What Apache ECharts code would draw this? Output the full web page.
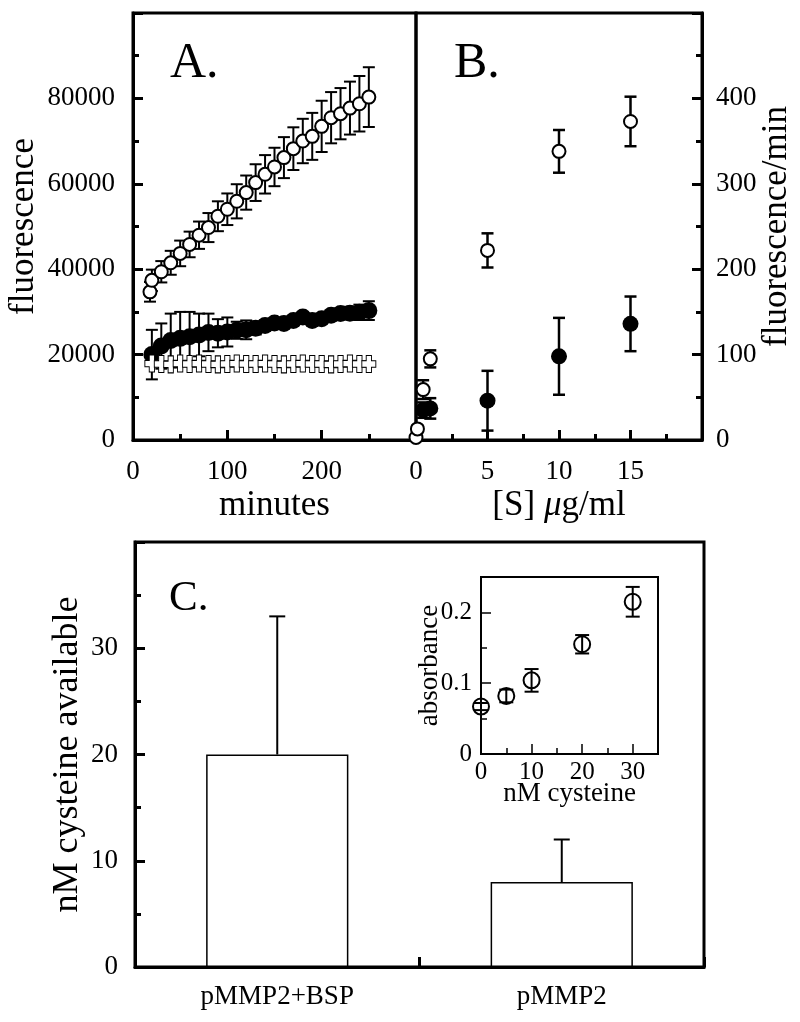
<!DOCTYPE html>
<html>
<head>
<meta charset="utf-8">
<script src="https://cdn.jsdelivr.net/npm/echarts@6/dist/echarts.min.js"></script>
<style>
html,body{margin:0;padding:0;background:#fff;}
#chart{width:800px;height:1022px;}
</style>
</head>
<body>
<div id="chart"></div>
<script>
// ---------- Panel A: fluorescence vs minutes ----------
const aOpenMinutes = [18, 20, 30, 40, 50, 60, 70, 80, 90, 100, 110, 120, 130, 140, 150, 160, 170, 180, 190, 200, 210, 220, 230, 240, 250];
const aOpenValues  = [34700, 37400, 39400, 41500, 43700, 45800, 47960, 49750, 52400, 54040, 55900, 57940, 60280, 62220, 63940, 66130, 68230, 70020, 71110, 73450, 75480, 76420, 77730, 78750, 80300];
const aOpenErrors  = [2300, 2500, 2500, 2800, 3000, 3000, 3200, 3400, 3500, 3700, 4000, 4000, 4300, 4500, 4500, 4800, 5000, 5200, 5500, 6000, 6000, 6000, 6200, 6500, 7000];

const aMinutes      = [20, 30, 40, 50, 60, 70, 80, 90, 100, 110, 120, 130, 140, 150, 160, 170, 180, 190, 200, 210, 220, 230, 240, 250];
const aFilledValues = [20000, 22000, 23300, 23800, 24200, 24600, 25200, 25000, 25300, 25700, 25800, 26200, 26800, 27400, 27300, 28000, 28800, 28000, 28400, 29200, 29600, 29700, 29900, 30300];
const aFilledErrors = [5800, 5300, 6300, 6200, 5800, 5000, 4400, 3300, 3400, 2000, 2200, 1500, 1200, 1000, 900, 900, 800, 800, 900, 1000, 1200, 1500, 1800, 2200];
const aCrossValues  = [17900, 17800, 17700, 17900, 17800, 17900, 17800, 17700, 17800, 17900, 17800, 17800, 17900, 17800, 17700, 17800, 17900, 17800, 17800, 17700, 17800, 17900, 17800, 17800];

// ---------- Panel B: fluorescence/min vs [S] ----------
const bOpenConc    = [0, 0.1, 0.5, 1, 5, 10, 15];
const bOpenRates   = [3, 13, 59, 95, 222, 338, 373];
const bOpenErrors  = [2, 4, 11, 10, 20, 25, 29];
const bFilledConc   = [0.5, 1, 5, 10, 15];
const bFilledRates  = [35, 37, 46, 98, 136];
const bFilledErrors = [9, 12, 35, 45, 32];

// ---------- Panel C: bars ----------
const cCategories = ['pMMP2+BSP', 'pMMP2'];
const cValues     = [20, 8];
const cErrors     = [13, 4];

// ---------- Panel C inset ----------
const insetCysteine   = [0, 5, 10, 20, 30];
const insetAbsorbance = [0.067, 0.082, 0.104, 0.155, 0.215];
const insetErrors     = [0.005, 0.009, 0.016, 0.013, 0.021];

const FONT = "'Liberation Serif', 'Times New Roman', serif";

function zip3(xs, ys, es) { return xs.map((x, i) => [x, ys[i], es[i]]); }
function zip2(xs, ys) { return xs.map((x, i) => [x, ys[i]]); }

function errRender(capHalf, lw, upOnly) {
  return function (params, api) {
    const x = api.value(0), y = api.value(1), e = api.value(2);
    const top = api.coord([x, y + e]);
    const bot = api.coord([x, upOnly ? y : y - e]);
    const st = { stroke: '#000', lineWidth: lw };
    const ch = [
      { type: 'line', shape: { x1: top[0], y1: top[1], x2: bot[0], y2: bot[1] }, style: st },
      { type: 'line', shape: { x1: top[0] - capHalf, y1: top[1], x2: top[0] + capHalf, y2: top[1] }, style: st }
    ];
    if (!upOnly) ch.push({ type: 'line', shape: { x1: bot[0] - capHalf, y1: bot[1], x2: bot[0] + capHalf, y2: bot[1] }, style: st });
    return { type: 'group', children: ch };
  };
}

function valAxis(opts) {
  const lw = opts.lw || 3;
  return Object.assign({
    type: 'value',
    nameMoveOverlap: false,
    splitLine: { show: false },
    axisLine: { show: true, onZero: false, lineStyle: { color: '#000', width: lw } },
    axisTick: { show: true, inside: true, length: opts.tickLen || 10, lineStyle: { color: '#000', width: lw } },
    minorTick: { show: true, splitNumber: 2, length: opts.minorLen || 6, lineStyle: { color: '#000', width: lw } },
    axisLabel: { color: '#000', fontFamily: FONT, fontSize: opts.fs || 27, margin: opts.margin || 16, showMaxLabel: false,
      formatter: function (v) { return String(v); } },
    nameTextStyle: { color: '#000', fontFamily: FONT, fontSize: opts.nfs || 35 }
  }, opts.extra);
}

const chart = echarts.init(document.getElementById('chart'), null, { renderer: 'canvas' });

const CROSS = 'path://M5,0 H11 V5 H16 V11 H11 V16 H5 V11 H0 V5 H5 Z';
const SOLID = { opacity: 1 };

const option = {
  animation: false,
  backgroundColor: '#fff',
  grid: [
    { left: 133, top: 13, width: 283, height: 427, show: true, borderColor: '#000', borderWidth: 3, backgroundColor: 'transparent' },
    { left: 416, top: 13, width: 286, height: 427, show: true, borderColor: '#000', borderWidth: 3, backgroundColor: 'transparent' },
    { left: 135, top: 542, width: 569, height: 425, show: true, borderColor: '#000', borderWidth: 3, backgroundColor: 'transparent' },
    { left: 481, top: 577, width: 177, height: 177, show: true, borderColor: '#000', borderWidth: 2, backgroundColor: 'transparent' }
  ],
  xAxis: [
    valAxis({ margin: 18, extra: { gridIndex: 0, min: 0, max: 300, interval: 100, name: 'minutes', nameLocation: 'middle', nameGap: 48 } }),
    valAxis({ margin: 18, extra: { gridIndex: 1, min: 0, max: 20, interval: 5, name: '[S] {i|\u03bc}g/ml', nameLocation: 'middle', nameGap: 48,
      nameTextStyle: { color: '#000', fontFamily: FONT, fontSize: 35, rich: { i: { fontStyle: 'italic', fontFamily: FONT, fontSize: 35, color: '#000' } } } } }),
    {
      gridIndex: 2, type: 'category', data: cCategories,
      axisLine: { show: true, lineStyle: { color: '#000', width: 3 } },
      axisTick: { show: true, inside: true, alignWithLabel: false, length: 10, lineStyle: { color: '#000', width: 3 } },
      axisLabel: { color: '#000', fontFamily: FONT, fontSize: 27, margin: 16 },
      splitLine: { show: false }
    },
    valAxis({ lw: 1.5, tickLen: 10, minorLen: 6, fs: 25, margin: 6, nfs: 27,
      extra: { gridIndex: 3, min: 0, max: 35, interval: 10, name: 'nM cysteine', nameLocation: 'middle', nameGap: 26 } })
  ],
  yAxis: [
    valAxis({ margin: 18, extra: { gridIndex: 0, min: 0, max: 100000, interval: 20000, name: 'fluorescence', nameLocation: 'middle', nameGap: 92 } }),
    valAxis({ margin: 14, extra: { gridIndex: 1, position: 'right', min: 0, max: 500, interval: 100, name: 'fluorescence/min', nameLocation: 'middle', nameGap: 57 } }),
    valAxis({ margin: 17, extra: { gridIndex: 2, min: 0, max: 40, interval: 10, name: 'nM cysteine available', nameLocation: 'middle', nameGap: 49, nameTextStyle: { color: '#000', fontFamily: FONT, fontSize: 36 } } }),
    valAxis({ lw: 1.5, tickLen: 10, minorLen: 6, fs: 25, margin: 9, nfs: 27,
      extra: { gridIndex: 3, min: 0, max: 0.25, interval: 0.1, name: 'absorbance', nameLocation: 'middle', nameGap: 38 } })
  ],
  series: [
    // Panel A
    { type: 'custom', xAxisIndex: 0, yAxisIndex: 0, z: 1, renderItem: errRender(6, 2), data: zip3(aMinutes, aFilledValues, aFilledErrors) },
    { type: 'custom', xAxisIndex: 0, yAxisIndex: 0, z: 1, renderItem: errRender(6, 2), data: zip3(aOpenMinutes, aOpenValues, aOpenErrors) },
    { type: 'scatter', xAxisIndex: 0, yAxisIndex: 0, z: 2, symbol: 'circle', symbolSize: 17, itemStyle: Object.assign({ color: '#000' }, SOLID), data: zip2(aMinutes, aFilledValues) },
    { type: 'scatter', xAxisIndex: 0, yAxisIndex: 0, z: 3, symbol: CROSS, symbolSize: [14, 17], itemStyle: Object.assign({ color: '#fff', borderColor: '#000', borderWidth: 1 }, SOLID), data: zip2(aMinutes, aCrossValues) },
    { type: 'scatter', xAxisIndex: 0, yAxisIndex: 0, z: 4, symbol: 'circle', symbolSize: 13, itemStyle: Object.assign({ color: '#fff', borderColor: '#000', borderWidth: 2 }, SOLID), data: zip2(aOpenMinutes, aOpenValues) },
    // Panel B
    { type: 'custom', xAxisIndex: 1, yAxisIndex: 1, z: 1, renderItem: errRender(6, 2.5), data: zip3(bOpenConc, bOpenRates, bOpenErrors) },
    { type: 'custom', xAxisIndex: 1, yAxisIndex: 1, z: 1, renderItem: errRender(6, 2.5), data: zip3(bFilledConc, bFilledRates, bFilledErrors) },
    { type: 'scatter', xAxisIndex: 1, yAxisIndex: 1, z: 2, symbol: 'circle', symbolSize: 16, itemStyle: Object.assign({ color: '#000' }, SOLID), data: zip2(bFilledConc, bFilledRates) },
    { type: 'scatter', xAxisIndex: 1, yAxisIndex: 1, z: 3, symbol: 'circle', symbolSize: 13, itemStyle: Object.assign({ color: '#fff', borderColor: '#000', borderWidth: 2 }, SOLID), data: zip2(bOpenConc, bOpenRates) },
    // Panel C
    { type: 'bar', xAxisIndex: 2, yAxisIndex: 2, z: 2, barWidth: '50%', itemStyle: { color: '#fff', borderColor: '#000', borderWidth: 1.5, opacity: 1 }, data: cValues },
    { type: 'custom', xAxisIndex: 2, yAxisIndex: 2, z: 3, renderItem: errRender(8, 2, true), data: cValues.map((v, i) => [i, v, cErrors[i]]) },
    // Inset
    { type: 'scatter', xAxisIndex: 3, yAxisIndex: 3, z: 2, symbol: 'circle', symbolSize: 16, itemStyle: { color: 'rgba(255,255,255,0)', borderColor: '#000', borderWidth: 2, opacity: 1 }, data: zip2(insetCysteine, insetAbsorbance) },
    { type: 'custom', xAxisIndex: 3, yAxisIndex: 3, z: 3, renderItem: errRender(7, 2), data: zip3(insetCysteine, insetAbsorbance, insetErrors) }
  ],
  graphic: [
    { type: 'text', x: 170, y: 64, style: { text: 'A.', font: "50px 'Liberation Serif', serif", fill: '#000', verticalAlign: 'middle' } },
    { type: 'text', x: 454, y: 64, style: { text: 'B.', font: "50px 'Liberation Serif', serif", fill: '#000', verticalAlign: 'middle' } },
    { type: 'text', x: 169, y: 599, style: { text: 'C.', font: "43px 'Liberation Serif', serif", fill: '#000', verticalAlign: 'middle' } }
  ]
};
chart.setOption(option);
</script>
</body>
</html>
